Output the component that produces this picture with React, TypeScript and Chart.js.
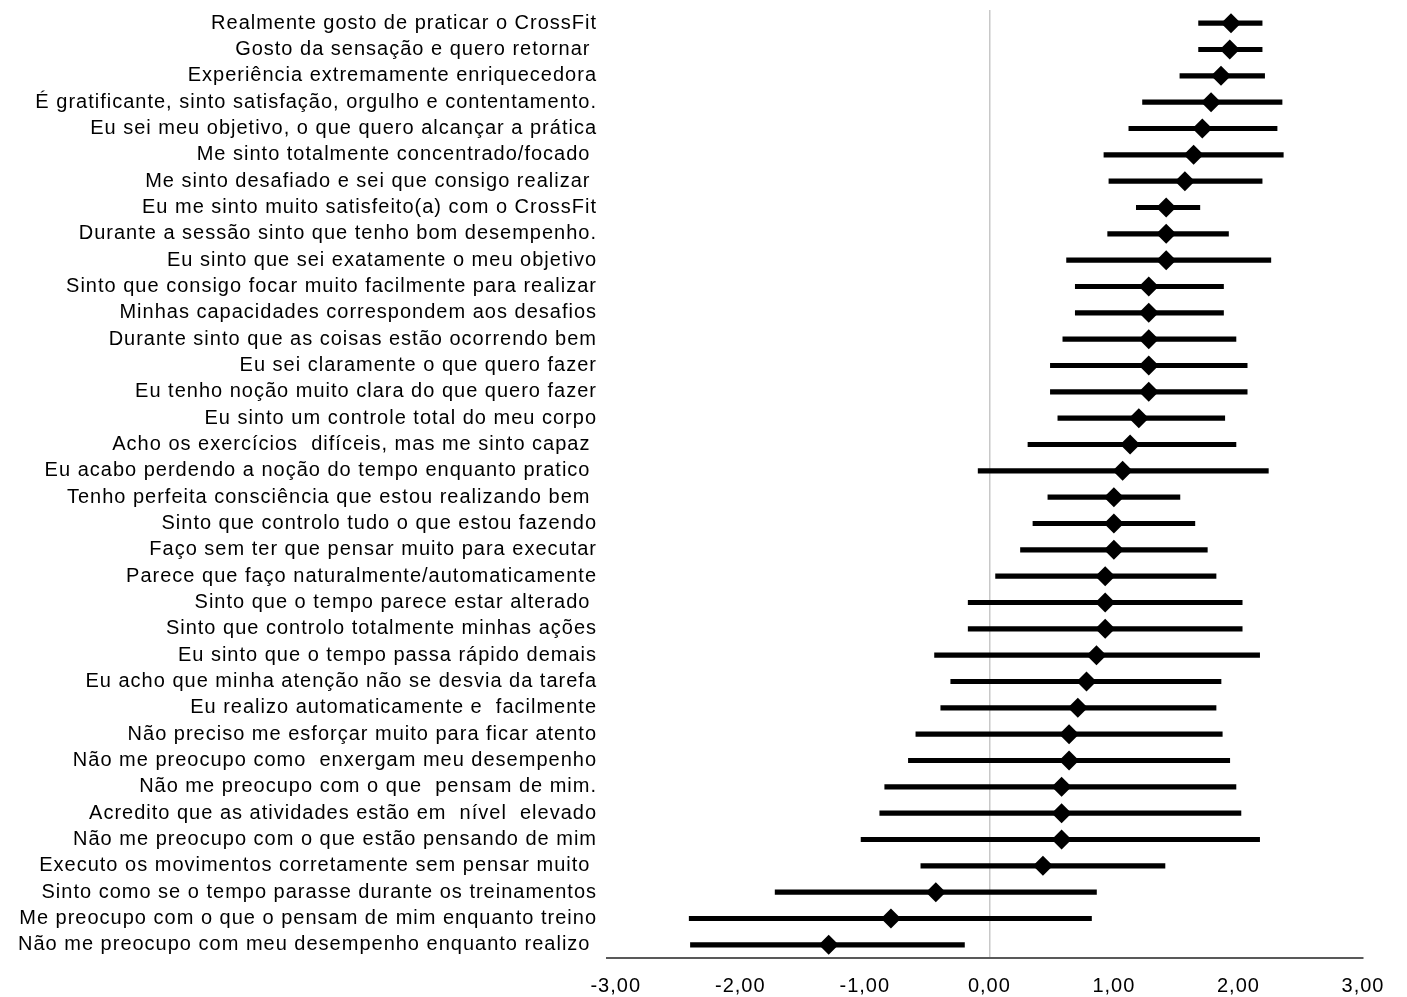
import React, { useEffect, useRef } from "react";
import { Chart, registerables } from "chart.js";

Chart.register(...registerables);

const labels: string[] = [
  "Realmente gosto de praticar o CrossFit",
  "Gosto da sensação e quero retornar ",
  "Experiência extremamente enriquecedora",
  "É gratificante, sinto satisfação, orgulho e contentamento.",
  "Eu sei meu objetivo, o que quero alcançar a prática",
  "Me sinto totalmente concentrado/focado ",
  "Me sinto desafiado e sei que consigo realizar ",
  "Eu me sinto muito satisfeito(a) com o CrossFit",
  "Durante a sessão sinto que tenho bom desempenho.",
  "Eu sinto que sei exatamente o meu objetivo",
  "Sinto que consigo focar muito facilmente para realizar",
  "Minhas capacidades correspondem aos desafios",
  "Durante sinto que as coisas estão ocorrendo bem",
  "Eu sei claramente o que quero fazer",
  "Eu tenho noção muito clara do que quero fazer",
  "Eu sinto um controle total do meu corpo",
  "Acho os exercícios  difíceis, mas me sinto capaz ",
  "Eu acabo perdendo a noção do tempo enquanto pratico ",
  "Tenho perfeita consciência que estou realizando bem ",
  "Sinto que controlo tudo o que estou fazendo",
  "Faço sem ter que pensar muito para executar",
  "Parece que faço naturalmente/automaticamente",
  "Sinto que o tempo parece estar alterado ",
  "Sinto que controlo totalmente minhas ações",
  "Eu sinto que o tempo passa rápido demais",
  "Eu acho que minha atenção não se desvia da tarefa",
  "Eu realizo automaticamente e  facilmente",
  "Não preciso me esforçar muito para ficar atento",
  "Não me preocupo como  enxergam meu desempenho",
  "Não me preocupo com o que  pensam de mim.",
  "Acredito que as atividades estão em  nível  elevado",
  "Não me preocupo com o que estão pensando de mim",
  "Executo os movimentos corretamente sem pensar muito ",
  "Sinto como se o tempo parasse durante os treinamentos",
  "Me preocupo com o que o pensam de mim enquanto treino",
  "Não me preocupo com meu desempenho enquanto realizo ",
];

const means: number[] = [
  1.94, 1.93, 1.86, 1.78, 1.71, 1.64, 1.57, 1.42, 1.42, 1.42,
  1.28, 1.28, 1.28, 1.28, 1.28, 1.2, 1.13, 1.07, 1.0, 1.0,
  1.0, 0.93, 0.93, 0.93, 0.86, 0.78, 0.71, 0.64, 0.64, 0.58,
  0.58, 0.58, 0.43, -0.43, -0.79, -1.29,
];

const lows: number[] = [
  1.68, 1.68, 1.53, 1.23, 1.12, 0.92, 0.96, 1.18, 0.95, 0.62,
  0.69, 0.69, 0.59, 0.49, 0.49, 0.55, 0.31, -0.09, 0.47, 0.35,
  0.25, 0.05, -0.17, -0.17, -0.44, -0.31, -0.39, -0.59, -0.65, -0.84,
  -0.88, -1.03, -0.55, -1.72, -2.41, -2.4,
];

const highs: number[] = [
  2.19, 2.19, 2.21, 2.35, 2.31, 2.36, 2.19, 1.69, 1.92, 2.26,
  1.88, 1.88, 1.98, 2.07, 2.07, 1.89, 1.98, 2.24, 1.53, 1.65,
  1.75, 1.82, 2.03, 2.03, 2.17, 1.86, 1.82, 1.87, 1.93, 1.98,
  2.02, 2.17, 1.41, 0.86, 0.82, -0.2,
];

const xTicks: number[] = [-3, -2, -1, 0, 1, 2, 3];

const spacingPlugin = {
  id: "letterSpacing",
  beforeDraw: (chart: any) => {
    chart.ctx.letterSpacing = "1px";
  },
  afterDraw: (chart: any) => {
    chart.ctx.letterSpacing = "0px";
  },
};

export default function App() {
  const ref = useRef<HTMLCanvasElement | null>(null);

  useEffect(() => {
    if (!ref.current) return;
    const font = { family: "'Liberation Sans', Arial, sans-serif", size: 20 };
    const chart = new Chart(ref.current, {
      type: "bar",
      plugins: [spacingPlugin],
      data: {
        labels,
        datasets: [
          {
            type: "line",
            data: means,
            showLine: false,
            pointStyle: "rectRot",
            pointRadius: 10,
            pointHoverRadius: 10,
            pointBackgroundColor: "#000000",
            pointBorderColor: "#000000",
            pointBorderWidth: 0,
            borderColor: "#000000",
            backgroundColor: "#000000",
            order: 0,
          } as any,
          {
            type: "bar",
            data: lows.map((l, i) => [l, highs[i]]) as any,
            backgroundColor: "#000000",
            borderWidth: 0,
            barThickness: 4.5,
            order: 1,
          },
        ],
      },
      options: {
        indexAxis: "y",
        animation: false,
        responsive: true,
        maintainAspectRatio: false,
        layout: { padding: { left: 0, right: 44, top: 8, bottom: 0 } },
        plugins: {
          legend: { display: false },
          tooltip: { enabled: false },
        },
        scales: {
          y: {
            type: "category",
            grid: { display: false, drawTicks: false },
            border: { display: false },
            ticks: {
              autoSkip: false,
              color: "#000000",
              font,
              padding: 10,
            },
            afterFit: (scale: any) => {
              scale.width = 607;
              scale.paddingTop = 0;
              scale.paddingBottom = 0;
            },
          },
          x: {
            type: "linear",
            min: -3.07,
            max: 3,
            afterBuildTicks: (scale: any) => {
              scale.ticks = xTicks.map((v) => ({ value: v }));
            },
            grid: {
              drawTicks: false,
              color: (ctx: any) =>
                ctx.tick && ctx.tick.value === 0 ? "#c8c8c8" : "rgba(0,0,0,0)",
              lineWidth: 1.5,
            },
            border: { display: true, color: "#595959", width: 2 },
            ticks: {
              color: "#000000",
              font,
              padding: 16,
              maxRotation: 0,
              callback: (v: any) => Number(v).toFixed(2).replace(".", ","),
            },
            afterFit: (scale: any) => {
              scale.height = 39;
              scale.paddingLeft = 0;
              scale.paddingRight = 0;
            },
          },
        },
      },
    });
    return () => chart.destroy();
  }, []);

  return (
    <div style={{ position: "fixed", left: 0, top: 0, width: 1407, height: 997, background: "#ffffff" }}>
      <canvas ref={ref} />
    </div>
  );
}
